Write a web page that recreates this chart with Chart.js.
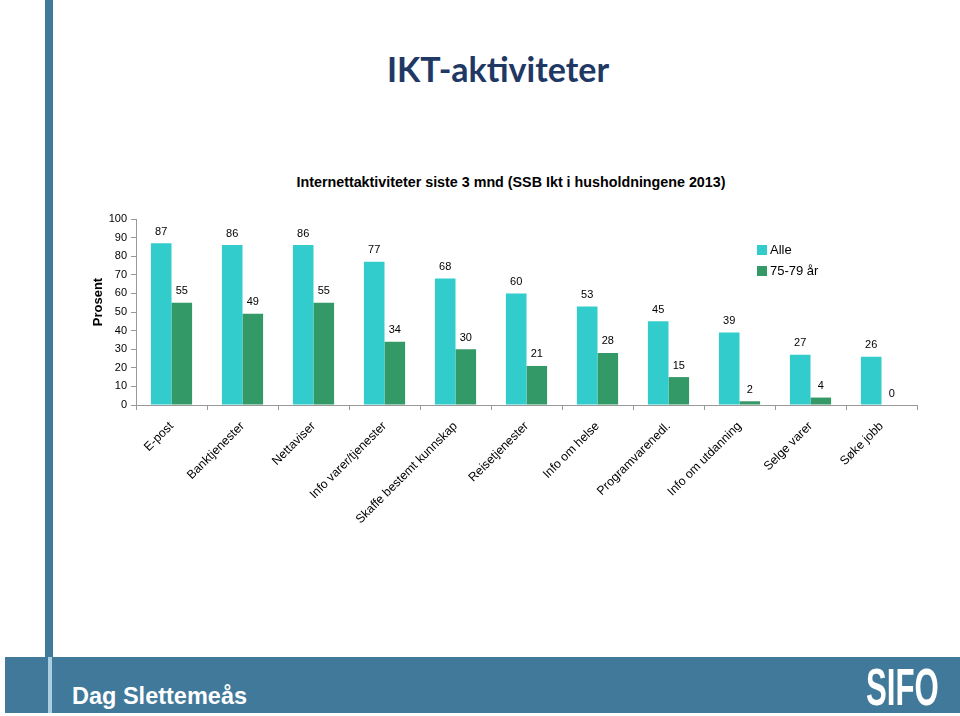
<!DOCTYPE html>
<html>
<head>
<meta charset="utf-8">
<script src="https://cdn.jsdelivr.net/npm/chart.js@4.4.1/dist/chart.umd.min.js"></script>
<style>
    body { margin: 0; width: 960px; height: 716px; background: #fff; position: relative; overflow: hidden; font-family: 'Liberation Sans', Arial, sans-serif; }
    .stripe { position: absolute; left: 45px; top: 0; width: 8px; height: 660px; background: #41799a; }
    .band { position: absolute; left: 5px; top: 657px; width: 955px; height: 56px; background: #41799a; }
    .band-line { position: absolute; left: 48px; top: 657px; width: 4px; height: 56px; background: #a9cfe0; }
    .author { position: absolute; left: 72px; top: 683px; color: #fff; font-weight: bold; font-size: 23.5px; }
    .logo { position: absolute; left: 866px; top: 661px; line-height: 52px; color: #fff; font-weight: bold; font-size: 52px;
            transform: scaleX(0.6); transform-origin: 0 0; }
    h1 { position: absolute; left: 0; width: 996px; top: 48px; margin: 0; text-align: center; font-family: Lato, 'Open Sans', sans-serif; font-weight: bold; font-size: 34px; color: #1f3864; }
    h2 { position: absolute; left: 0; width: 1022px; top: 174px; margin: 0; text-align: center; font-weight: bold; font-size: 14.3px; color: #000; }
    #wrap { position: absolute; left: 0; top: 0; width: 960px; height: 716px; }
</style>
</head>
<body>
<div class="stripe"></div>
<h1>IKT-aktiviteter</h1>
<h2>Internettaktiviteter siste 3 mnd (SSB Ikt i husholdningene 2013)</h2>
<div id="wrap"><canvas id="chart"></canvas></div>
<div class="band"></div>
<div class="band-line"></div>
<div class="author">Dag Slettemeås</div>
<div class="logo">SIFO</div>
<script>
const categories = ['E-post', 'Banktjenester', 'Nettaviser', 'Info varer/tjenester', 'Skaffe bestemt kunnskap',
    'Reisetjenester', 'Info om helse', 'Programvarenedl.', 'Info om utdanning', 'Selge varer', 'Søke jobb'];
const alleValues = [87, 86, 86, 77, 68, 60, 53, 45, 39, 27, 26];
const seniorValues = [55, 49, 55, 34, 30, 21, 28, 15, 2, 4, 0];
const seriesNames = ['Alle', '75-79 år'];
const yTicks = [0, 10, 20, 30, 40, 50, 60, 70, 80, 90, 100];

const colors = ['#33cccc', '#339966'];
const fontFamily = "'Liberation Sans', Arial, sans-serif";

// value labels, y title and legend drawn by hand
const extras = {
    id: 'extras',
    afterDatasetsDraw(chart) {
        const ctx = chart.ctx;
        ctx.save();
        ctx.font = '11px ' + fontFamily;
        ctx.fillStyle = '#000';
        ctx.textAlign = 'center';
        ctx.textBaseline = 'bottom';
        chart.data.datasets.forEach((ds, i) => {
            chart.getDatasetMeta(i).data.forEach((bar, j) => {
                ctx.fillText(ds.data[j], bar.x, bar.y - 6);
            });
        });

        ctx.save();
        ctx.translate(98, 302);
        ctx.rotate(-Math.PI / 2);
        ctx.font = 'bold 13px ' + fontFamily;
        ctx.textBaseline = 'middle';
        ctx.fillText('Prosent', 0, 0);
        ctx.restore();

        ctx.font = '13px ' + fontFamily;
        ctx.textAlign = 'left';
        ctx.textBaseline = 'middle';
        seriesNames.forEach((name, i) => {
            const y = 250 + i * 21;
            ctx.fillStyle = colors[i];
            ctx.fillRect(757, y - 5, 10, 10);
            ctx.fillStyle = '#000';
            ctx.fillText(name, 770, y);
        });
        ctx.restore();
    }
};

new Chart(document.getElementById('chart'), {
    type: 'bar',
    data: {
        labels: categories,
        datasets: [
            { label: seriesNames[0], data: alleValues, backgroundColor: colors[0] },
            { label: seriesNames[1], data: seniorValues, backgroundColor: colors[1] }
        ]
    },
    options: {
        responsive: true,
        maintainAspectRatio: false,
        animation: false,
        layout: { padding: { left: 84, top: 219, right: 43, bottom: 0 } },
        datasets: { bar: { barPercentage: 1, categoryPercentage: 0.58 } },
        plugins: {
            legend: { display: false },
            tooltip: { enabled: false }
        },
        scales: {
            x: {
                afterFit: s => { s.height = 311; },
                grid: { drawOnChartArea: false, tickLength: 5, color: '#999' },
                border: { color: '#999' },
                ticks: {
                    minRotation: 45, maxRotation: 45,
                    padding: 9,
                    color: '#000',
                    font: { size: 12.3, family: fontFamily }
                }
            },
            y: {
                min: 0, max: 100,
                afterFit: s => { s.width = 52; },
                afterBuildTicks: s => { s.ticks = yTicks.map(v => ({ value: v })); },
                grid: { drawOnChartArea: false, tickLength: 5, color: '#999' },
                border: { color: '#999' },
                ticks: {
                    color: '#000',
                    padding: 4,
                    font: { size: 11, family: fontFamily }
                }
            }
        }
    },
    plugins: [extras]
});
</script>
</body>
</html>
